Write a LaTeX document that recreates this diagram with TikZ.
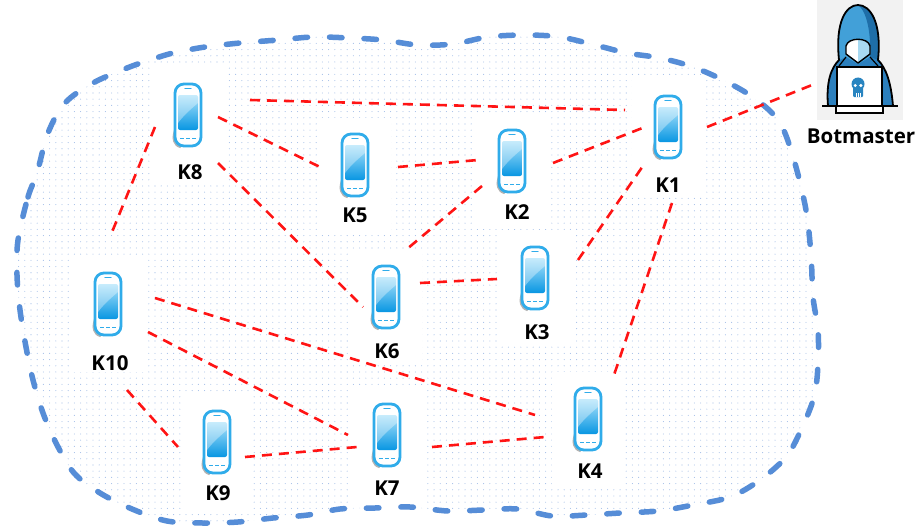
\documentclass[tikz,border=0pt]{standalone}
\usepackage{fontspec}
\setmainfont{Open Sans}
\usetikzlibrary{patterns.meta}

\definecolor{cloudblue}{RGB}{86,141,215}
\definecolor{dotblue}{RGB}{165,192,232}
\definecolor{linkred}{RGB}{255,20,20}
\definecolor{phoneedge}{RGB}{48,172,234}
\definecolor{screenlight}{RGB}{170,226,251}
\definecolor{screendark}{RGB}{8,150,226}
\definecolor{hoodlight}{RGB}{66,160,216}
\definecolor{hooddark}{RGB}{30,110,168}
\definecolor{shoulder}{RGB}{44,128,190}
\definecolor{faceblue}{RGB}{168,218,242}
\definecolor{skullblue}{RGB}{40,132,192}

\tikzset{
  cloudzone/.style={line width=5.5pt, draw=cloudblue, dash pattern=on 12.5pt off 22pt,
    line cap=round, pattern={Dots[distance=6.2pt,radius=0.55pt]}, pattern color=dotblue},
  link/.style={draw=linkred, line width=2.6pt, dash pattern=on 10pt off 7pt},
  devbox/.style={fill=white, inner sep=0pt, minimum width=72pt, minimum height=115pt},
  phone/.style={inner sep=0pt, minimum width=28pt, minimum height=64pt},
  devlabel/.style={font=\fontsize{20.5}{24}\selectfont\bfseries, inner sep=0pt},
  handset/.pic={
    % soft shadow at the lower left corner
    \fill[black!30] (-14,15) .. controls (-17,24) and (-15,31) .. (-8,33)
      -- (-6,31) .. controls (-12,29) and (-13,24) .. (-12,15) -- cycle;
    % body
    \draw[phoneedge, line width=2.8pt, fill=white, rounded corners=9pt] (-13,-31) rectangle (13,31);
    % screen with a light gloss
    \shade[top color=screenlight, bottom color=screendark, rounded corners=2pt] (-10,-20) rectangle (10,15);
    \fill[white, opacity=.35] (-10,-20) -- (10,-20) -- (10,-12) .. controls (3,-6) and (-4,0) .. (-10,8) -- cycle;
    % speaker and keys
    \draw[phoneedge, line width=1.2pt, line cap=round] (-3,-26.5) -- (3,-26.5);
    \foreach \dx in {-6,0,6} \draw[phoneedge, line width=1.5pt] (\dx-2,23.5) -- (\dx+2,23.5);
  }
}

% name, phone x, phone y, label, label x, label y
\newcommand\device[6]{%
  \node[devbox] (#1box) at (#2,#3+10) {};
  \node[phone] (#1) at (#2,#3) {};
  \pic at (#1) {handset};
  \node[devlabel] (#1text) at (#5,#6) {#4};
}

\begin{document}
\begin{tikzpicture}[x=1pt,y=-1pt]
\useasboundingbox (0,0) rectangle (921,527);
\fill[white] (0,0) rectangle (921,527);

% the botnet region
\draw[cloudzone] plot[smooth cycle, tension=0.55] coordinates {
  (18,240) (28,197) (37,173) (48,133) (65,103) (93,83) (127,68) (150,60) (173,53)
  (205,47) (240,43) (278,40) (313,37) (350,38) (383,40) (418,45) (453,44) (488,37)
  (525,35) (560,37) (595,45) (627,53) (660,58) (693,67) (727,82) (757,100) (780,123)
  (794,160) (806,210) (811,255) (813,297) (818,330) (818,365) (814,397) (801,430)
  (786,457) (760,480) (730,497) (693,505) (658,511) (620,513) (587,515) (552,516)
  (518,509) (483,510) (448,511) (410,507) (375,508) (340,509) (308,515) (273,518)
  (238,522) (203,523) (167,521) (132,509) (100,493) (74,473) (56,443) (43,413)
  (33,380) (26,347) (20,310) (17,275)};

% devices
\device{k1}{668}{127}{K1}{668}{185}
\device{k2}{512}{161}{K2}{517}{212}
\device{k3}{535}{278}{K3}{537}{332}
\device{k4}{588}{419}{K4}{590}{471}
\device{k5}{355}{165}{K5}{355}{215}
\device{k6}{386}{297}{K6}{387}{351}
\device{k7}{387}{435}{K7}{387}{488}
\device{k8}{188}{115}{K8}{190}{172}
\device{k9}{217}{442}{K9}{218}{493}
\device{k10}{108}{304}{K10}{110}{363}

% botmaster: hooded figure behind a laptop
\node[fill=black!5, inner sep=0pt, minimum width=86pt, minimum height=120pt] (bot) at (860,60) {};
\fill[shoulder] (828,106) .. controls (826,82) and (831,68) .. (839,60)
  .. controls (835,22) and (846,5) .. (858,5) .. controls (870,5) and (882,22) .. (878,60)
  .. controls (886,68) and (891,82) .. (893,106) -- cycle;
\fill[hoodlight] (839,60) .. controls (835,22) and (846,5) .. (858,5)
  .. controls (870,5) and (882,22) .. (878,60) -- (870,57) -- (858,64) -- (846,57) -- cycle;
\fill[hooddark] (858,5) .. controls (870,5) and (882,22) .. (878,60) -- (870,57)
  -- (870,42) .. controls (869,24) and (865,10) .. (858,5) -- cycle;
\draw[black, line width=1.8pt, line join=round] (828,106) .. controls (826,82) and (831,68) .. (839,60)
  .. controls (835,22) and (846,5) .. (858,5) .. controls (870,5) and (882,22) .. (878,60)
  .. controls (886,68) and (891,82) .. (893,106);
\draw[black, line width=1.2pt] (846,57) -- (839,66) (870,57) -- (878,66);
\fill[white] (846,46) .. controls (848,37) and (868,37) .. (870,46) -- (870,54) -- (858,63) -- (846,54) -- cycle;
\fill[faceblue] (858,39.3) .. controls (864,39.3) and (869,41) .. (870,46) -- (870,54) -- (858,63) -- cycle;
\draw[black, line width=1.4pt, line join=round] (846,46) .. controls (848,37) and (868,37) .. (870,46)
  -- (870,54) -- (858,63) -- (846,54) -- cycle;
\draw[black, line width=1.8pt, fill=white] (837,67) rectangle (882,106);
\draw[black, line width=1.8pt, fill=white] (836,106) rectangle (883,113);
\draw[black, line width=2pt] (822,106) -- (898,106);
\fill[skullblue] (858,84) circle[radius=6.5];
\fill[skullblue, rounded corners=1pt] (853,87) rectangle (863,97);
\fill[white] (855.2,85.5) circle[radius=1.7] (860.8,85.5) circle[radius=1.7];
\draw[white, line width=0.6pt] (856,93) -- (856,97) (858,93) -- (858,97) (860,93) -- (860,97);
\node[devlabel] (bottext) at (861,136) {Botmaster};

% links
\draw[link] ([shift={(62,-15)}]k8.center) -- ([shift={(-43,-17)}]k1.center);
\draw[link] ([shift={(30,2)}]k8.center) -- ([shift={(-33,3)}]k5.center);
\draw[link] ([shift={(30,48)}]k8.center) -- ([shift={(-23,10)}]k6.center);
\draw[link] ([shift={(-33,12)}]k8.center) -- ([shift={(2,-67)}]k10.center);
\draw[link] ([shift={(43,2)}]k5.center) -- ([shift={(-34,-1)}]k2.center);
\draw[link] ([shift={(41,2)}]k2.center) -- ([shift={(-23,0)}]k1.center);
\draw[link] ([shift={(-30,25)}]k2.center) -- ([shift={(21,-48)}]k6.center);
\draw[link] ([shift={(34,-14)}]k6.center) -- ([shift={(-38,1)}]k3.center);
\draw[link] ([shift={(43,-18)}]k3.center) -- ([shift={(-23,36)}]k1.center);
\draw[link] ([shift={(4,76)}]k1.center) -- ([shift={(25,-41)}]k4.center);
\draw[link] ([shift={(47,-6)}]k10.center) -- ([shift={(-53,-4)}]k4.center);
\draw[link] ([shift={(40,28)}]k10.center) -- ([shift={(-39,0)}]k7.center);
\draw[link] ([shift={(19,86)}]k10.center) -- ([shift={(-39,5)}]k9.center);
\draw[link] ([shift={(28,15)}]k9.center) -- ([shift={(-30,12)}]k7.center);
\draw[link] ([shift={(45,12)}]k7.center) -- ([shift={(-43,18)}]k4.center);
\draw[link] ([shift={(39,0)}]k1.center) -- ([shift={(-43,23)}]bot.center);
\end{tikzpicture}
\end{document}
